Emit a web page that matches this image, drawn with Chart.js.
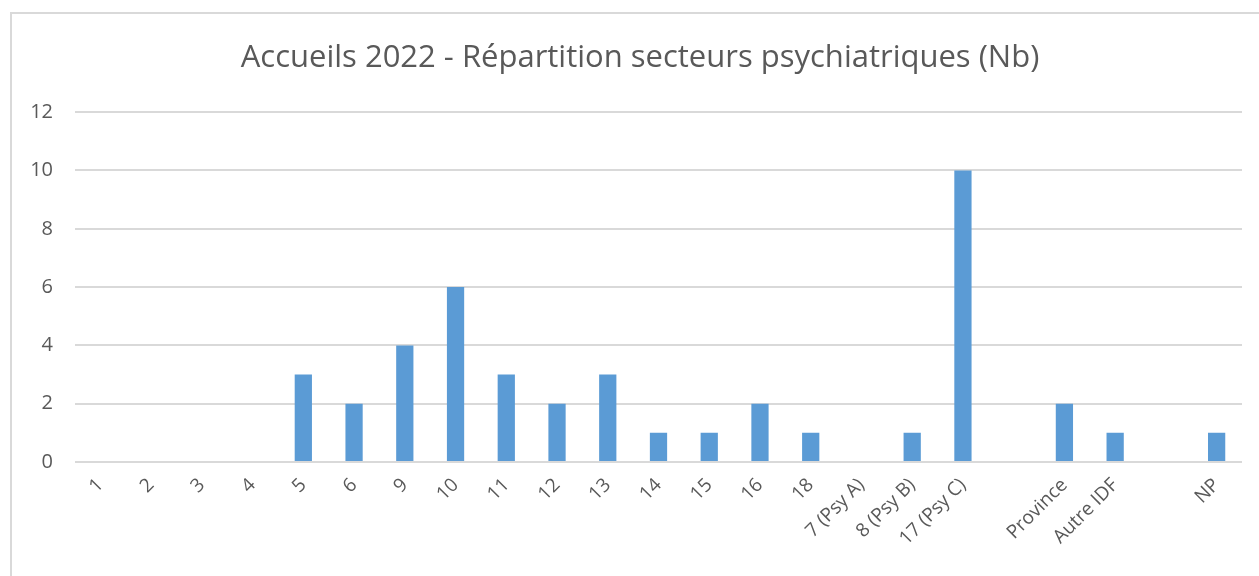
<!DOCTYPE html>
<html>
<head>
<meta charset="utf-8">
<script src="https://cdn.jsdelivr.net/npm/chart.js@4/dist/chart.umd.min.js"></script>
<style>
  body { margin: 0; background: #fff; }
  canvas { display: block; }
</style>
</head>
<body>
<canvas id="chart" width="1259" height="576"></canvas>
<script>
const secteurs = ["1", "2", "3", "4", "5", "6", "9", "10", "11", "12", "13", "14", "15", "16", "18",
    "7 (Psy A)", "8 (Psy B)", "17 (Psy C)", "", "Province", "Autre IDF", "", "NP"];
const accueils = [0, 0, 0, 0, 3, 2, 4, 6, 3, 2, 3, 1, 1, 2, 1, 0, 1, 10, null, 2, 1, null, 1];
const yTicks = [0, 2, 4, 6, 8, 10, 12];

const grey = '#595959';

// frame of the excel chart (left and top border only)
const framePlugin = {
    id: 'frame',
    afterLayout(chart) {
        // excel centres the title on the whole frame, a bit right of ours
        chart.titleBlock.left += 18;
    },
    beforeDraw(chart) {
        const ctx = chart.ctx;
        ctx.save();
        ctx.strokeStyle = '#d9d9d9';
        ctx.lineWidth = 2;
        ctx.beginPath();
        ctx.moveTo(11, 576);
        ctx.lineTo(11, 13);
        ctx.lineTo(1259, 13);
        ctx.stroke();
        ctx.restore();
    }
};

const ctx = document.getElementById('chart').getContext('2d');
new Chart(ctx, {
    type: 'bar',
    data: {
        labels: secteurs,
        datasets: [{
            data: accueils,
            backgroundColor: '#5b9bd5',
            barPercentage: 0.34,
            categoryPercentage: 1
        }]
    },
    options: {
        responsive: false,
        animation: false,
        layout: { padding: { top: 40, left: 20, right: 17, bottom: 0 } },
        plugins: {
            legend: { display: false },
            tooltip: { enabled: false },
            title: {
                display: true,
                text: 'Accueils 2022 - Répartition secteurs psychiatriques (Nb)',
                color: grey,
                font: { family: 'Open Sans', size: 31, weight: 'normal' },
                padding: { top: 0, bottom: 35 }
            }
        },
        scales: {
            x: {
                grid: { display: false },
                border: { display: false },
                ticks: {
                    color: grey,
                    font: { family: 'Open Sans', size: 19 },
                    minRotation: 45,
                    maxRotation: 45,
                    autoSkip: false,
                    padding: 4
                },
                afterFit(scale) { scale.height = 114; }
            },
            y: {
                min: 0,
                max: 12,
                afterBuildTicks(scale) { scale.ticks = yTicks.map(v => ({ value: v })); },
                grid: { color: '#d9d9d9', lineWidth: 2, drawTicks: false },
                border: { display: false },
                ticks: {
                    color: grey,
                    font: { family: 'Open Sans', size: 20 },
                    padding: 22
                },
                afterFit(scale) { scale.width = 55; }
            }
        }
    },
    plugins: [framePlugin]
});
</script>
</body>
</html>
